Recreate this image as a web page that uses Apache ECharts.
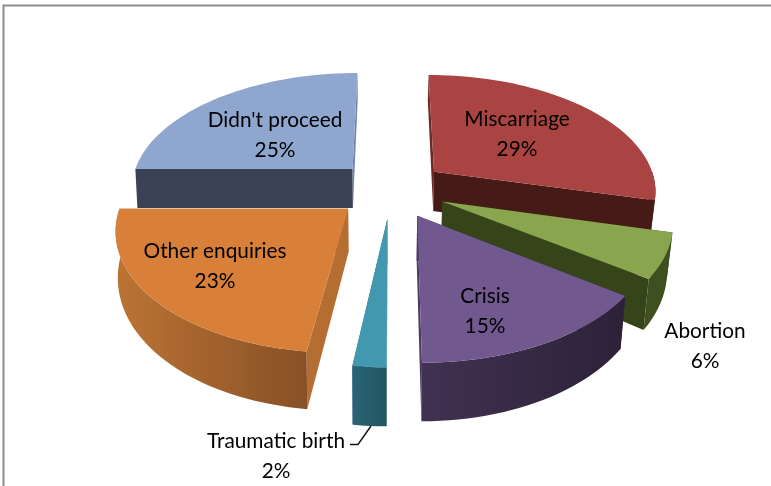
<!doctype html>
<html lang="en" style="height: 100%">

<head>
  <meta charset="utf-8" />
  <script type="text/javascript" src="https://cdn.jsdelivr.net/npm/echarts@6/dist/echarts.min.js"></script>
</head>

<body style="height: 100%; margin: 0; background: #fff">
  <div id="main" style="width: 771px; height: 486px"></div>
  <script type="text/javascript">
    // chart values, clockwise from 12 o'clock
    var categories = ['Miscarriage', 'Abortion', 'Crisis', 'Traumatic birth', 'Other enquiries', "Didn't proceed"];
    var values = [29, 6, 15, 2, 23, 25];

    // painter's order, back slices first
    var drawOrder = [5, 0, 1, 4, 3, 2];

    var topColors = ['#a94442', '#89a54e', '#71588f', '#4198af', '#d87f3a', '#8fa6cf'];
    var wallLeft = ['#451a17', '#3f5020', '#413152', '#2a6474', '#bc7434', '#3b4255'];
    var wallRight = ['#451a17', '#3f5020', '#2c2238', '#235563', '#875026', '#3b4255'];
    var startFace = ['#6e2a28', '#364419', '#2c2238', '#2a6474', '#b56e31', '#3b4255'];
    var endFace = ['#451a17', '#364419', '#4c3a63', '#2a6474', '#b56e31', '#6f85ac'];
    var labelX = [517, 705, 485, 276, 215, 275];
    var labelY = [134, 346, 311, 456, 266, 135];

    // projection of the tilted pie, fitted to the picture
    var cx = 391, cy = 189;
    var radiusX = 223, tilt = 116, persp = 0.15;
    var explode = 0.25;
    var depth = 41.5, depthGrow = 14;
    var shrinkLeft = 0.992, shrinkRight = 0.98;

    var total = values.reduce(function (a, b) { return a + b; }, 0);
    var starts = [];
    values.reduce(function (sum, v, i) { starts[i] = sum; return sum + v; }, 0);

    function project(X, Y, bottom) {
      var s = 1 / (1 - persp * Y);
      var x = radiusX * X * s;
      var y = tilt * Y * s;
      if (bottom) {
        x = x * (x < 0 ? shrinkLeft : shrinkRight);
        y = y + depth + depthGrow * Y;
      }
      return [cx + x, cy + y];
    }

    function rimPoints(ox, oy, a0, a1, bottom) {
      var pts = [];
      var n = Math.max(2, Math.ceil((a1 - a0) / (Math.PI / 90)));
      for (var k = 0; k <= n; k++) {
        var a = a0 + (a1 - a0) * k / n;
        pts.push(project(ox + Math.sin(a), oy - Math.cos(a), bottom));
      }
      return pts;
    }

    function poly(points, fill) {
      return { type: 'polygon', shape: { points: points }, style: { fill: fill } };
    }

    function renderSlice(params, api) {
      var i = api.value(0);
      var v = api.value(1);
      var a0 = starts[i] / total * Math.PI * 2;
      var a1 = (starts[i] + v) / total * Math.PI * 2;
      var mid = (a0 + a1) / 2;
      var ox = explode * Math.sin(mid);
      var oy = -explode * Math.cos(mid);

      var apexTop = project(ox, oy, false);
      var apexBottom = project(ox, oy, true);
      var rimTop = rimPoints(ox, oy, a0, a1, false);
      var rimBottom = rimPoints(ox, oy, a0, a1, true);

      var children = [
        poly([apexTop, rimTop[0], rimBottom[0], apexBottom], startFace[i]),
        poly([apexTop, rimTop[rimTop.length - 1], rimBottom[rimBottom.length - 1], apexBottom], endFace[i])
      ];

      // outer wall only shows on the near half of the rim
      var w0 = Math.max(a0, Math.PI / 2);
      var w1 = Math.min(a1, Math.PI * 1.5);
      if (w1 > w0) {
        children.push(poly(rimPoints(ox, oy, w0, w1, false).concat(rimPoints(ox, oy, w0, w1, true).reverse()), {
          type: 'linear', x: 0, y: 0, x2: 1, y2: 0,
          colorStops: [{ offset: 0, color: wallLeft[i] }, { offset: 1, color: wallRight[i] }]
        }));
      }
      children.push(poly([apexTop].concat(rimTop), topColors[i]));

      children.push({
        type: 'text',
        z2: 100,
        style: {
          text: categories[i] + '\n' + v + '%',
          x: labelX[i],
          y: labelY[i],
          align: 'center',
          verticalAlign: 'middle',
          fontFamily: 'Lato',
          fontSize: 20.8,
          lineHeight: 30,
          fill: '#000'
        }
      });

      // leader line of the small slice
      if (categories[i] === 'Traumatic birth') {
        children.push({
          type: 'polyline',
          shape: { points: [[350, 444.5], [358, 444.5], [371, 426]] },
          style: { stroke: '#111', lineWidth: 1.4, fill: 'none' }
        });
      }

      return { type: 'group', children: children };
    }

    var chartDom = document.getElementById('main');
    var myChart = echarts.init(chartDom);

    var option = {
      animation: false,
      backgroundColor: '#fff',
      graphic: [
        {
          type: 'polyline',
          shape: { points: [[3.5, 486], [3.5, 5.5], [771, 5.5]] },
          style: { stroke: '#8c8c8c', lineWidth: 2, fill: 'none' }
        }
      ],
      series: [
        {
          type: 'custom',
          coordinateSystem: 'none',
          renderItem: renderSlice,
          data: drawOrder.map(function (i) { return [i, values[i]]; })
        }
      ]
    };
    myChart.setOption(option);
  </script>
</body>

</html>
